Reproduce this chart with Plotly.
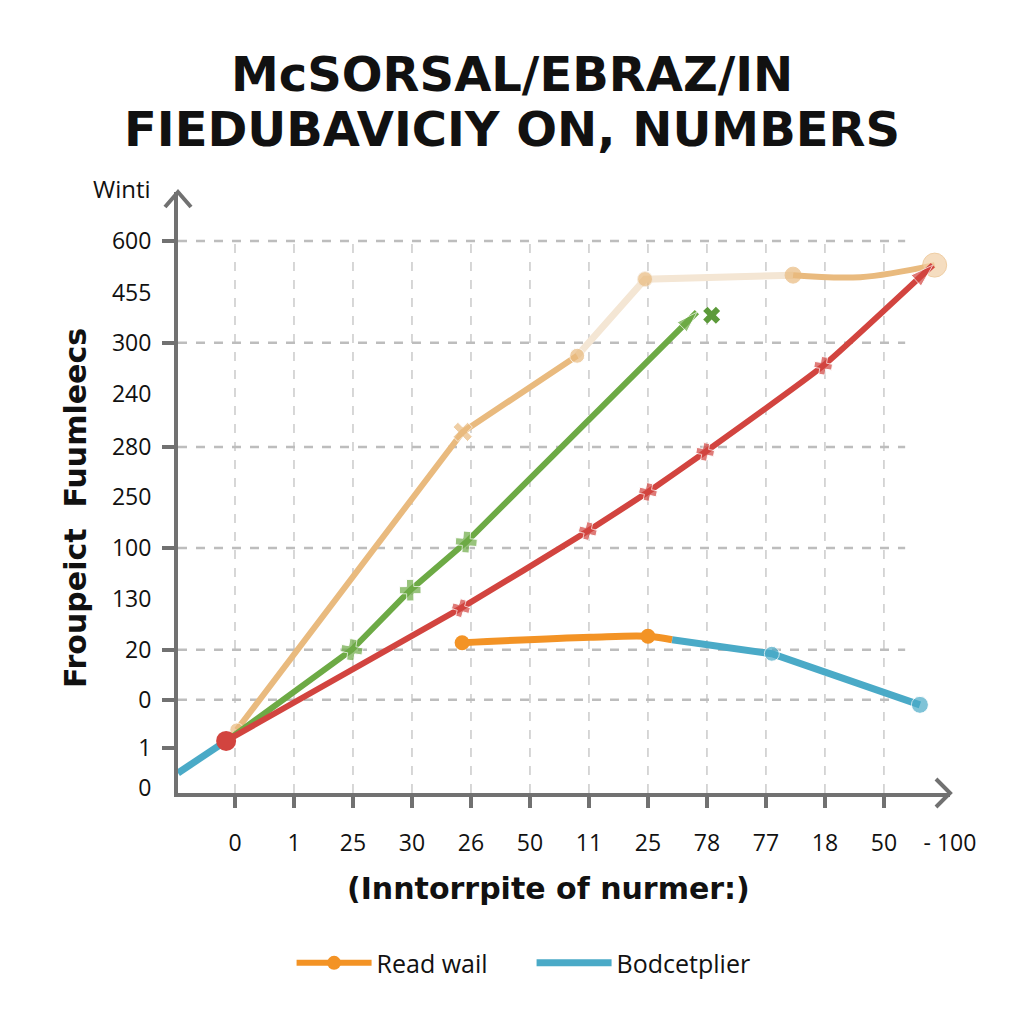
import plotly.graph_objects as go

# ---------------- data (positions in tick-index units) ----------------
x_tick_labels = ["0", "1", "25", "30", "26", "50", "11", "25", "78", "77", "18", "50", "- 100"]
x_tick_pos = [0, 1, 2, 3, 4, 5, 6, 7, 8, 9, 10, 11, 12.12]
x_major_pos = [0, 1, 2, 3, 4, 5, 6, 7, 8, 9, 10, 11]

y_tick_labels = ["600", "455", "300", "240", "280", "250", "100", "130", "20", "0", "1", "0"]
y_tick_pos = [11.02, 9.98, 8.99, 7.97, 6.91, 5.91, 4.89, 3.87, 2.86, 1.86, 0.90, 0.10]
y_grid_pos = [11.02, 8.99, 6.91, 4.89, 2.86, 1.86]
y_mark_pos = [11.02, 8.99, 6.91, 4.89, 2.86, 1.86, 0.90]

tan_x = [0.03, 3.86, 5.80]
tan_y = [1.26, 7.21, 8.73]
tan_faded_x = [5.80, 6.95, 9.46]
tan_faded_y = [8.73, 10.26, 10.34]
tan_end_x = [9.46, 10.6, 11.86]
tan_end_y = [10.34, 10.30, 10.54]

green_x = [-0.12, 1.98, 2.97, 3.92, 7.83]
green_y = [1.06, 2.86, 4.05, 5.01, 9.60]
green_cap_x = [8.08]
green_cap_y = [9.54]

red_x = [-0.15, 3.83, 5.98, 7.00, 7.97, 9.97, 11.83]
red_y = [1.04, 3.69, 5.23, 6.01, 6.81, 8.53, 10.54]

orange_x = [3.85, 6.02, 7.00, 7.41]
orange_y = [3.00, 3.11, 3.13, 3.06]
orange_mark_x = [3.85, 7.00]
orange_mark_y = [3.00, 3.13]

blue_left_x = [-0.966, -0.15]
blue_left_y = [0.40, 1.04]
blue_x = [7.41, 9.10, 11.61]
blue_y = [3.06, 2.78, 1.76]

X_RANGE = [-0.966, 12.12]
Y_RANGE = [0, 12.0]

TAN = "#E9BA7E"
TAN_FADED = "#F4E6D4"
GREEN = "#6DAA45"
RED = "#D2443F"
ORANGE = "#F39325"
BLUE = "#4AAAC7"
AXIS = "#717171"

fig = go.Figure()

# blue left segment
fig.add_trace(go.Scatter(x=blue_left_x, y=blue_left_y, mode="lines",
                         line=dict(color=BLUE, width=7), showlegend=False))
# tan
fig.add_trace(go.Scatter(x=tan_faded_x, y=tan_faded_y, mode="lines+markers",
                         line=dict(color=TAN_FADED, width=7),
                         marker=dict(size=[0, 15, 0], color=TAN), showlegend=False))
fig.add_trace(go.Scatter(x=tan_x, y=tan_y, mode="lines+markers",
                         line=dict(color=TAN, width=6),
                         marker=dict(size=[14, 17, 15], color=TAN, symbol=["circle", "x", "circle"]),
                         showlegend=False))
fig.add_trace(go.Scatter(x=tan_end_x, y=tan_end_y, mode="lines+markers",
                         line=dict(color=TAN, width=6, shape="spline"),
                         marker=dict(size=[16, 0, 24], color=[TAN, TAN, "#F2CFA6"]),
                         showlegend=False))
# green
fig.add_trace(go.Scatter(x=green_x, y=green_y, mode="lines+markers",
                         line=dict(color=GREEN, width=6),
                         marker=dict(size=[0, 18, 18, 18, 22], color=GREEN,
                                     symbol=["circle", "x", "x", "x", "arrow"],
                                     angleref="previous"),
                         showlegend=False))
fig.add_trace(go.Scatter(x=green_cap_x, y=green_cap_y, mode="markers",
                         marker=dict(size=15, color="#5C9A3A", symbol="x"), showlegend=False))
# red
fig.add_trace(go.Scatter(x=red_x, y=red_y, mode="lines+markers",
                         line=dict(color=RED, width=6, shape="spline", smoothing=0.4),
                         marker=dict(size=[0, 15, 15, 15, 15, 15, 24], color=RED,
                                     symbol=["circle", "x", "x", "x", "x", "x", "arrow"],
                                     angleref="previous"),
                         showlegend=False))
fig.add_trace(go.Scatter(x=red_x[:1], y=red_y[:1], mode="markers",
                         marker=dict(size=20, color=RED), showlegend=False))
# orange
fig.add_trace(go.Scatter(x=orange_x, y=orange_y, mode="lines",
                         line=dict(color=ORANGE, width=7, shape="spline"), showlegend=False))
fig.add_trace(go.Scatter(x=orange_mark_x, y=orange_mark_y, mode="markers",
                         marker=dict(size=15, color=ORANGE), showlegend=False))
# blue right
fig.add_trace(go.Scatter(x=blue_x, y=blue_y, mode="lines+markers",
                         line=dict(color=BLUE, width=7),
                         marker=dict(size=[0, 15, 17], color=BLUE), showlegend=False))

# legend-only entries (on overlay axes, which they also keep drawn)
fig.add_trace(go.Scatter(x=[None], y=[None], mode="lines+markers", name="Read wail",
                         line=dict(color=ORANGE, width=6), marker=dict(size=14, color=ORANGE),
                         xaxis="x2", yaxis="y2"))
fig.add_trace(go.Scatter(x=[None], y=[None], mode="lines", name="Bodcetplier",
                         line=dict(color=BLUE, width=7), xaxis="x2", yaxis="y2"))

# gridlines
shapes = []
for xv in x_major_pos:
    shapes.append(dict(type="line", xref="x", yref="y", x0=xv, x1=xv, y0=0, y1=y_grid_pos[0],
                       line=dict(color="#CACACA", width=1.5, dash="dash"), layer="below"))
for yv in y_grid_pos:
    shapes.append(dict(type="line", xref="x", yref="y", x0=X_RANGE[0], x1=11.36, y0=yv, y1=yv,
                       line=dict(color="#BDBDBD", width=2.5, dash="dash"), layer="below"))
# axis arrow heads
shapes.append(dict(type="path", xref="paper", yref="paper", xsizemode="pixel", ysizemode="pixel",
                   xanchor=0, yanchor=1, path="M -13,-15 L 0,0 L 13,-15",
                   line=dict(color=AXIS, width=4)))
shapes.append(dict(type="path", xref="paper", yref="paper", xsizemode="pixel", ysizemode="pixel",
                   xanchor=1, yanchor=0, path="M -14,14 L 0,0 L -14,-14",
                   line=dict(color=AXIS, width=4)))

tick_font = dict(family="Open Sans, Noto Sans, sans-serif", size=23, color="#111111")

fig.update_layout(
    width=1024, height=1024,
    margin=dict(l=178, r=74, t=192, b=231),
    paper_bgcolor="white", plot_bgcolor="white",
    shapes=shapes,
    showlegend=True,
    legend=dict(orientation="h", x=0.458, y=-0.283, xanchor="center", yanchor="middle",
                font=dict(family="Open Sans, Noto Sans, sans-serif", size=25, color="#111111"),
                itemwidth=75, entrywidth=150, entrywidthmode="pixels",
                bgcolor="rgba(0,0,0,0)"),
    xaxis=dict(range=X_RANGE, tickmode="array", tickvals=x_tick_pos, ticktext=x_tick_labels,
               ticks="", showgrid=False, zeroline=False, showline=True, linecolor=AXIS, linewidth=4,
               tickfont=tick_font, ticklabelstandoff=26),
    yaxis=dict(range=Y_RANGE, tickmode="array", tickvals=y_tick_pos, ticktext=y_tick_labels,
               ticks="", showgrid=False, zeroline=False, showline=True, linecolor=AXIS, linewidth=4,
               tickfont=tick_font, ticklabelstandoff=18),
    xaxis2=dict(range=X_RANGE, overlaying="x", anchor="y", tickmode="array", tickvals=x_major_pos,
                ticks="outside", ticklen=14, tickwidth=4, tickcolor=AXIS, showticklabels=False,
                showgrid=False, zeroline=False, showline=False),
    yaxis2=dict(range=Y_RANGE, overlaying="y", anchor="x", side="left", tickmode="array",
                tickvals=y_mark_pos, ticks="outside", ticklen=15, tickwidth=4, tickcolor=AXIS,
                showticklabels=False, showgrid=False, zeroline=False, showline=False),
)

bold_family = "DejaVu Sans, Liberation Sans, sans-serif"
title_font = dict(family=bold_family, size=48, color="#111111")
fig.add_annotation(text="<b>McSORSAL/EBRAZ/IN</b>", xref="paper", yref="paper",
                   x=(512 - 178) / 772, y=(793 - 103) / 601, showarrow=False,
                   xanchor="center", yanchor="bottom", borderpad=0, font=title_font)
fig.add_annotation(text="<b>FIEDUBAVICIY ON, NUMBERS</b>", xref="paper", yref="paper",
                   x=(512 - 178) / 772, y=(793 - 100) / 601, showarrow=False,
                   xanchor="center", yanchor="top", borderpad=0, font=title_font)
fig.add_annotation(text="<b>Froupeict  Fuumleecs</b>", xref="paper", yref="paper",
                   x=(75 - 178) / 772, y=(793 - 508) / 601, showarrow=False, textangle=-90,
                   xanchor="center", yanchor="middle",
                   font=dict(family=bold_family, size=30, color="#111111"))
fig.add_annotation(text="Winti", xref="paper", yref="paper",
                   x=(122 - 178) / 772, y=(793 - 188) / 601, showarrow=False,
                   xanchor="center", yanchor="middle",
                   font=dict(family="Open Sans, Noto Sans, sans-serif", size=24, color="#111111"))
fig.add_annotation(text="<b>(Inntorrpite of nurmer:)</b>", xref="paper", yref="paper",
                   x=(548 - 178) / 772, y=(793 - 888) / 601, showarrow=False,
                   xanchor="center", yanchor="middle",
                   font=dict(family=bold_family, size=30, color="#111111"))

fig.write_html("out.html")
